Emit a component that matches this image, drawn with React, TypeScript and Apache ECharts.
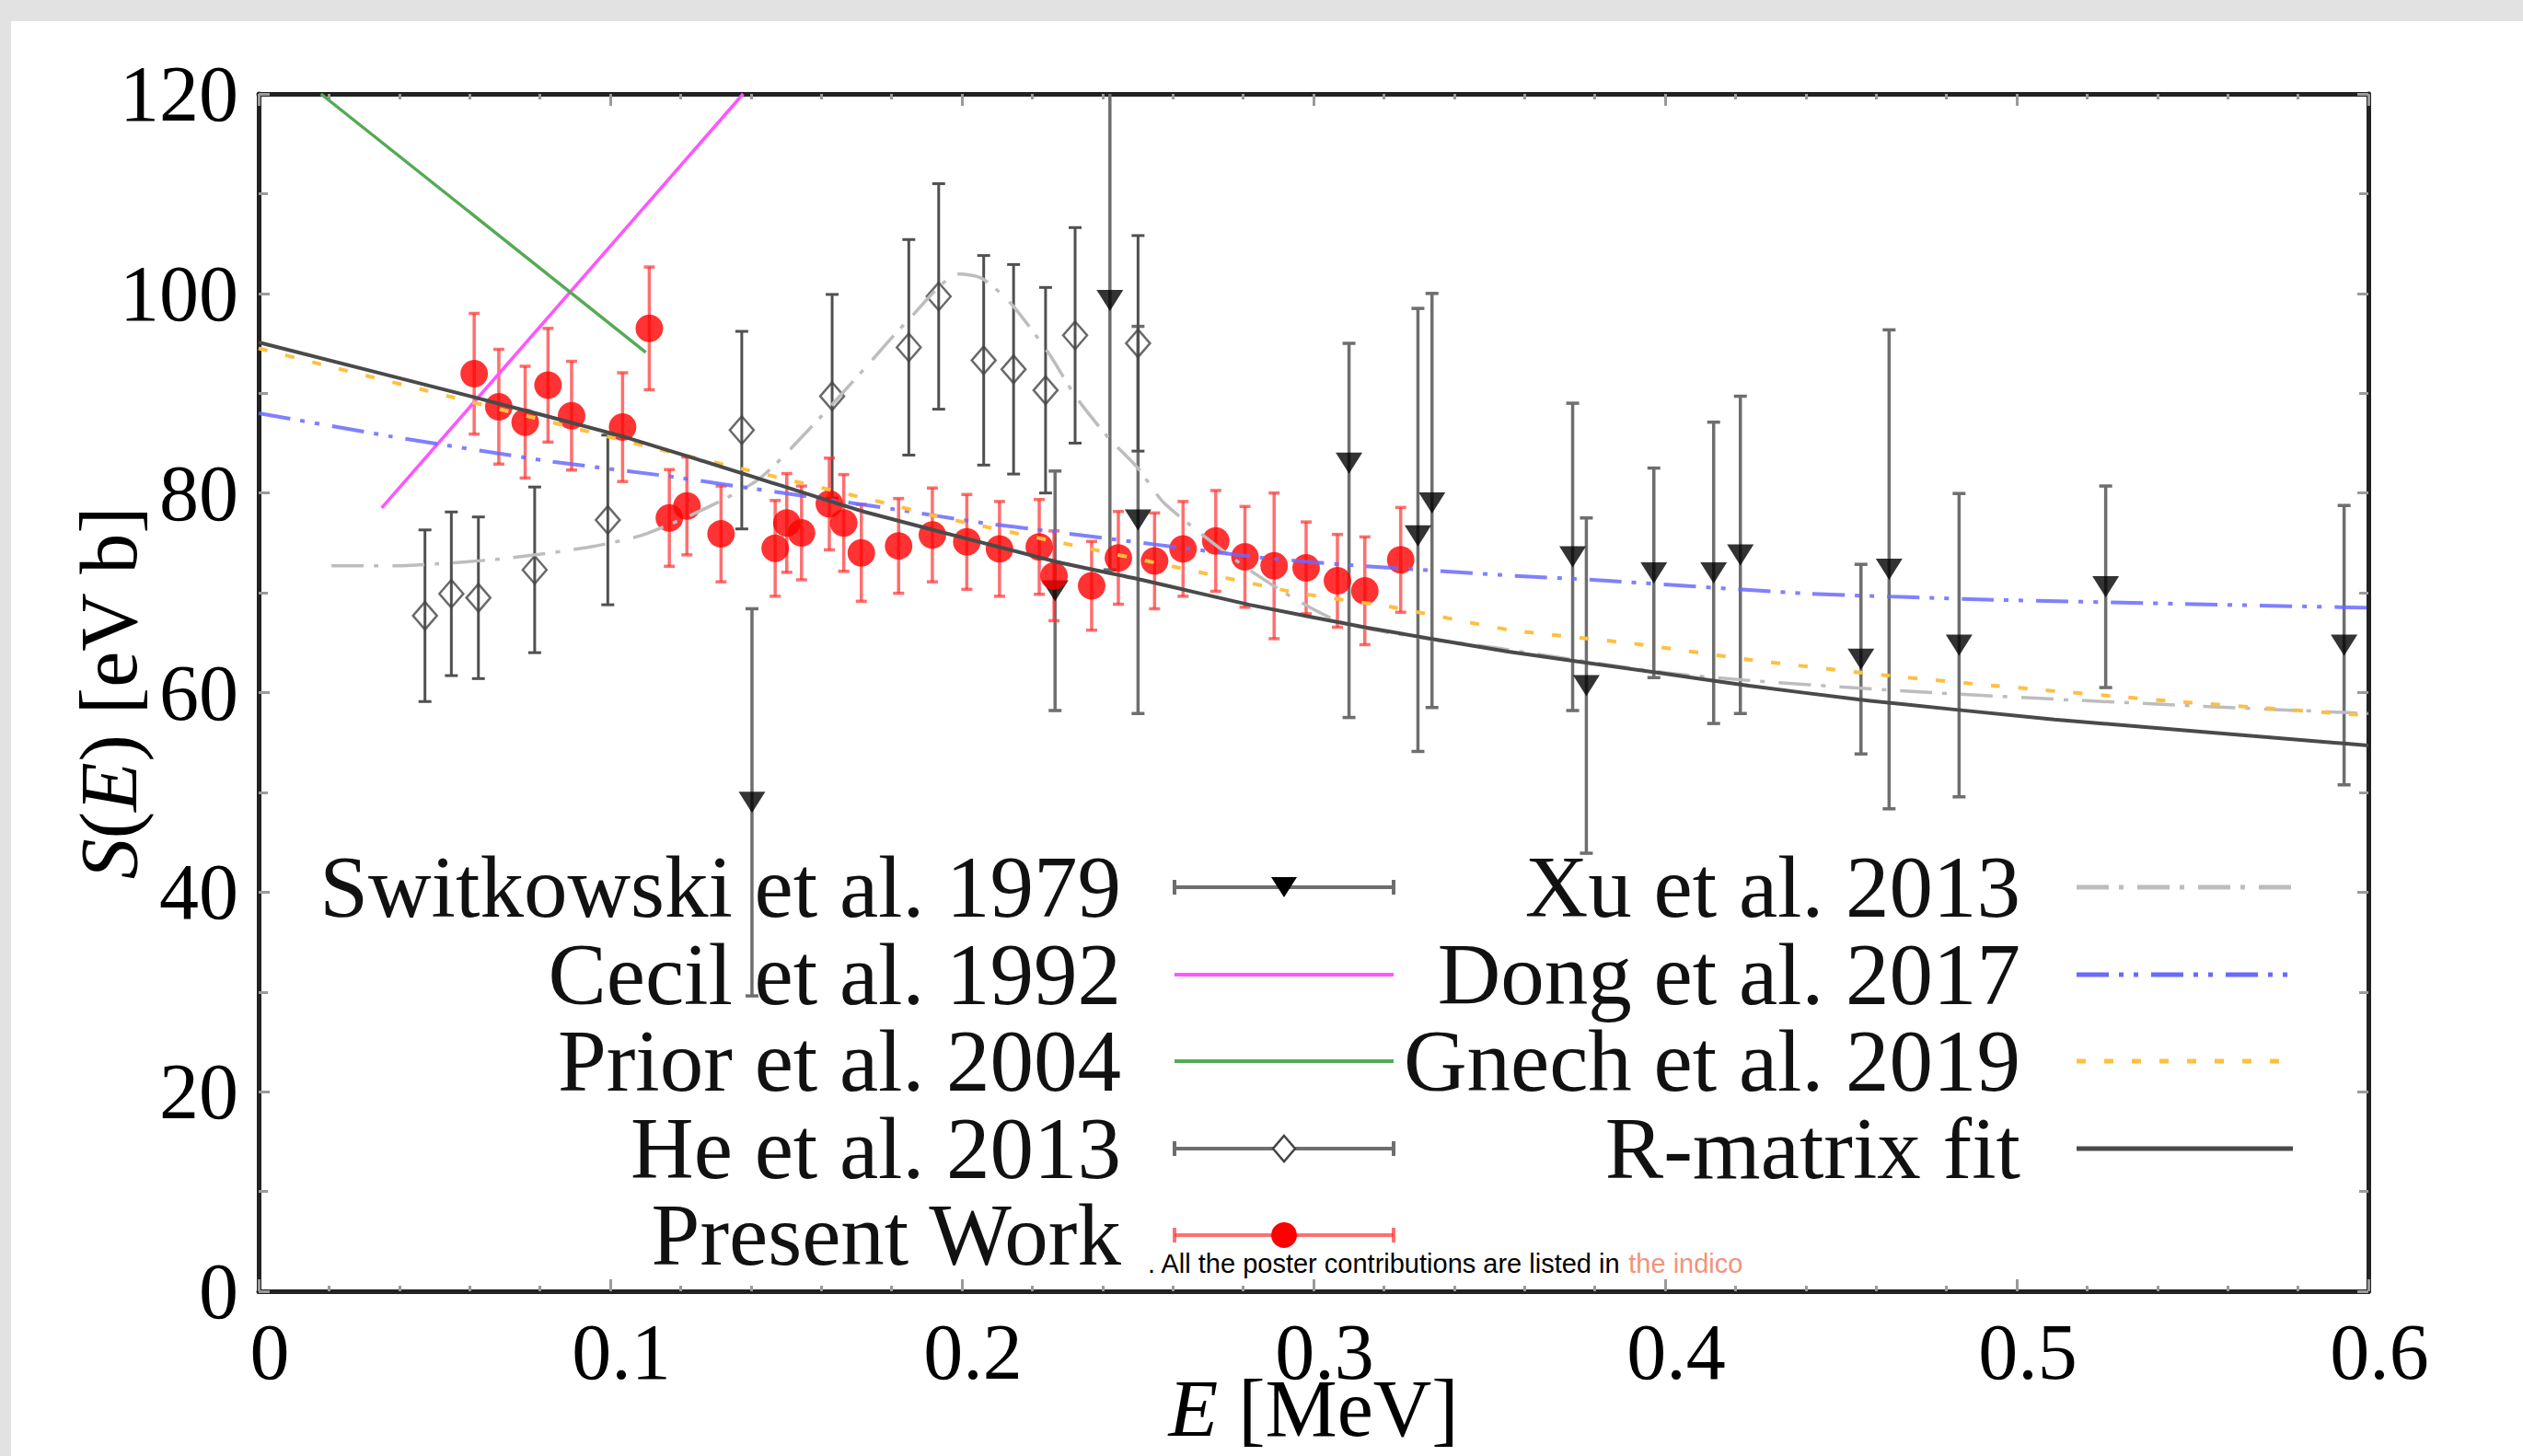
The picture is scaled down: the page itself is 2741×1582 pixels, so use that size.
import React, { useEffect, useRef } from 'react';
import * as echarts from 'echarts';

const W = 2741;
const H = 1582;

// ---------- data ----------
// Present Work (red circles)
const pwE = [0.0613, 0.0683, 0.0758, 0.0823, 0.089, 0.1035, 0.1111, 0.1168, 0.1218, 0.1315, 0.1469, 0.1502, 0.1544, 0.1623, 0.1664, 0.1714, 0.182, 0.1916, 0.2014, 0.2107, 0.222, 0.2262, 0.2369, 0.2445, 0.2548, 0.2629, 0.2722, 0.2805, 0.2888, 0.2979, 0.3068, 0.3146, 0.3248];
const pwS = [91.95, 88.65, 87.1, 90.8, 87.75, 86.6, 96.5, 77.5, 78.7, 75.9, 74.45, 77.0, 76.0, 78.9, 77.0, 74.0, 74.7, 75.8, 75.1, 74.4, 74.6, 71.7, 70.7, 73.5, 73.2, 74.4, 75.2, 73.6, 72.7, 72.5, 71.2, 70.2, 73.3];
const pwErr = [6.05, 5.75, 5.6, 5.7, 5.45, 5.45, 6.15, 4.85, 4.9, 4.8, 4.8, 4.95, 4.7, 4.6, 4.85, 4.85, 4.75, 4.7, 4.75, 4.75, 4.75, 4.5, 4.45, 4.65, 4.8, 4.75, 5.05, 5.05, 7.3, 4.6, 4.65, 5.4, 5.25];

// Switkowski et al. 1979 (black down triangles)
const swE = [0.1403, 0.2265, 0.2421, 0.2501, 0.3101, 0.3297, 0.3337, 0.3737, 0.3776, 0.3968, 0.4138, 0.4214, 0.4557, 0.4637, 0.4836, 0.5253, 0.5931];
const swS = [49.0, 70.2, 99.3, 77.3, 83.0, 75.7, 79.0, 73.6, 60.7, 72.0, 72.0, 73.8, 63.35, 72.35, 64.75, 70.6, 64.75];
const swErrLo = [19.4, 12.0, 27.0, 19.4, 25.5, 21.6, 20.5, 15.4, 16.8, 10.5, 15.1, 15.9, 9.5, 24.0, 15.2, 10.1, 14.0];
const swErrHi = [19.4, 12.0, 27.0, 19.4, 12.0, 22.8, 21.0, 15.4, 16.8, 10.5, 15.1, 15.9, 9.5, 24.0, 15.2, 10.1, 14.0];

// He et al. 2013 (open diamonds)
const heE = [0.0473, 0.0548, 0.0625, 0.0785, 0.0993, 0.1374, 0.1631, 0.1849, 0.1934, 0.2062, 0.2147, 0.2238, 0.2322, 0.2501];
const heS = [67.7, 69.9, 69.5, 72.3, 77.3, 86.3, 89.7, 94.6, 99.7, 93.3, 92.4, 90.3, 95.8, 95.0];
const heErr = [8.6, 8.2, 8.1, 8.3, 8.5, 9.9, 10.2, 10.8, 11.3, 10.5, 10.5, 10.3, 10.8, 10.8];

// Cecil et al. 1992
const ccE = [0.035, 0.1378];
const ccS = [78.5, 120.0];
// Prior et al. 2004
const prE = [0.0177, 0.1101];
const prS = [120.0, 94.1];
// Xu et al. 2013
const xuE = [0.0207, 0.0387, 0.0552, 0.0717, 0.0943, 0.1093, 0.1273, 0.1423, 0.1574, 0.1724, 0.1844, 0.1994, 0.2057, 0.2138, 0.2245, 0.2325, 0.2418, 0.2498, 0.2578, 0.283, 0.3085, 0.3553, 0.4063, 0.4758, 0.5453, 0.6];
const xuS = [72.7, 72.7, 73.0, 73.5, 74.6, 75.8, 78.5, 81.4, 86.7, 92.5, 97.2, 101.95, 101.5, 99.05, 94.1, 89.6, 85.5, 82.6, 78.9, 72.0, 67.0, 64.3, 61.75, 60.0, 58.75, 57.9];
// Dong et al. 2017
const dgE = [0, 0.0372, 0.0823, 0.1183, 0.1394, 0.1822, 0.2039, 0.2243, 0.2857, 0.3132, 0.3352, 0.3572, 0.3794, 0.4411, 0.4932, 0.5453, 0.6];
const dgS = [88.0, 85.7, 83.2, 81.6, 80.5, 78.3, 77.1, 76.2, 73.5, 72.7, 72.2, 71.7, 71.3, 69.9, 69.3, 68.9, 68.5];
// Gnech et al. 2019
const gnE = [0, 0.0222, 0.0552, 0.1123, 0.1378, 0.1769, 0.1924, 0.2284, 0.2618, 0.2952, 0.3218, 0.3553, 0.3913, 0.4237, 0.4619, 0.4932, 0.5453, 0.6];
const gnS = [94.5, 92.5, 89.6, 84.5, 82.4, 79.1, 77.7, 75.0, 72.5, 70.0, 68.6, 66.3, 64.9, 63.3, 61.75, 60.7, 59.1, 57.7];
// R-matrix fit
const rmE = [0, 0.0613, 0.1033, 0.1409, 0.1724, 0.227, 0.2511, 0.2818, 0.3152, 0.3553, 0.3977, 0.4237, 0.455, 0.5106, 0.6];
const rmS = [95.1, 89.6, 85.7, 81.6, 78.1, 73.1, 71.3, 68.8, 66.5, 64.1, 62.0, 60.7, 59.3, 57.3, 54.7];

// axes
const xMin = 0, xMax = 0.6, xStep = 0.1;
const yMin = 0, yMax = 120, yStep = 20;

const legendLeft = ['Switkowski et al. 1979', 'Cecil et al. 1992', 'Prior et al. 2004', 'He et al. 2013', 'Present Work'];
const legendRight = ['Xu et al. 2013', 'Dong et al. 2017', 'Gnech et al. 2019', 'R-matrix fit'];
const noteText = '. All the poster contributions are listed in ';
const noteLink = 'the indico';

// ---------- styles ----------
const SERIF = '"Liberation Serif", "Times New Roman", serif';
const SANS = '"Liberation Sans", Arial, sans-serif';
const TICK = '#9a9a9a';
const C = {
  sw: '#6e6e6e',
  he: '#505050',
  pwBar: 'rgba(255,50,50,0.7)',
  pw: '#ff0000',
  cecil: '#ff55ff',
  prior: '#55aa55',
  xu: '#bdbdbd',
  dong: '#6a6aff',
  gnech: '#ffbf40',
  rm: '#4a4a4a',
};
const DASH = {
  xu: [35, 11, 5, 15],
  dong: [35, 11, 5, 11, 5, 14],
  gnech: [10, 20],
};

const pairs = (xs: number[], ys: number[]) => xs.map((x, i) => [x, ys[i]]);

function errorBars(name: string, xs: number[], ys: number[], lo: number[], hi: number[], color: string, width: number, cap: number) {
  return {
    type: 'custom',
    name,
    clip: true,
    silent: true,
    data: xs.map((x, i) => [x, ys[i] - lo[i], ys[i] + hi[i]]),
    encode: { x: 0, y: [1, 2] },
    renderItem: (_p: any, api: any) => {
      const a = api.coord([api.value(0), api.value(1)]);
      const b = api.coord([api.value(0), api.value(2)]);
      const style = { stroke: color, lineWidth: width };
      return {
        type: 'group',
        children: [
          { type: 'line', shape: { x1: a[0], y1: a[1], x2: b[0], y2: b[1] }, style },
          { type: 'line', shape: { x1: a[0] - cap, y1: a[1], x2: a[0] + cap, y2: a[1] }, style },
          { type: 'line', shape: { x1: b[0] - cap, y1: b[1], x2: b[0] + cap, y2: b[1] }, style },
        ],
      };
    },
  };
}

function curve(name: string, xs: number[], ys: number[], color: string, width: number, type: any, smooth: number | boolean, opacity = 1) {
  return {
    type: 'line',
    name,
    data: pairs(xs, ys),
    showSymbol: false,
    symbol: 'none',
    smooth,
    clip: true,
    silent: true,
    lineStyle: { color, width, type, opacity, cap: 'butt' },
  };
}

// ---------- legend (gnuplot-style key drawn as graphics) ----------
const rowY = [964, 1059, 1153, 1248, 1342];
const LT = 1218, L1 = 1276, L2 = 1514;
const RT = 2195, R1 = 2256, R2 = 2491;

function keyText(t: string, x: number, y: number) {
  return {
    type: 'text', x, y, silent: true, z: 50,
    style: { text: t, align: 'right', verticalAlign: 'middle', fontFamily: SERIF, fontSize: 95, lineHeight: 78, fill: '#111' },
  };
}
function seg(x1: number, y1: number, x2: number, y2: number, stroke: string, lineWidth: number, lineDash?: number[]) {
  return { type: 'line', silent: true, z: 50, shape: { x1, y1, x2, y2 }, style: { stroke, lineWidth, lineDash } };
}
function barKey(y: number, color: string, width: number) {
  return [
    seg(L1, y, L2, y, color, width),
    seg(L1, y - 8, L1, y + 8, color, width),
    seg(L2, y - 8, L2, y + 8, color, width),
  ];
}

function buildGraphic() {
  const cx = (L1 + L2) / 2;
  const els: any[] = [];
  legendLeft.forEach((t, i) => els.push(keyText(t, LT, rowY[i])));
  legendRight.forEach((t, i) => els.push(keyText(t, RT, rowY[i])));
  // Switkowski
  els.push(...barKey(rowY[0], C.sw, 4));
  els.push({ type: 'polygon', silent: true, z: 51, shape: { points: [[cx - 14, rowY[0] - 11], [cx + 14, rowY[0] - 11], [cx, rowY[0] + 11]] }, style: { fill: '#000' } });
  // Cecil, Prior
  els.push(seg(L1, rowY[1], L2, rowY[1], C.cecil, 4));
  els.push(seg(L1, rowY[2], L2, rowY[2], C.prior, 4));
  // He
  els.push(...barKey(rowY[3], C.sw, 4));
  els.push({ type: 'polygon', silent: true, z: 51, shape: { points: [[cx, rowY[3] - 14], [cx + 12, rowY[3]], [cx, rowY[3] + 14], [cx - 12, rowY[3]]] }, style: { fill: '#fff', stroke: '#444', lineWidth: 2.5 } });
  // Present Work
  els.push(...barKey(rowY[4], C.pwBar, 4));
  els.push({ type: 'circle', silent: true, z: 51, shape: { cx, cy: rowY[4], r: 14 }, style: { fill: C.pw } });
  // right column
  els.push(seg(R1, rowY[0], R2, rowY[0], C.xu, 5, DASH.xu));
  els.push(seg(R1, rowY[1], R2, rowY[1], C.dong, 5, DASH.dong));
  els.push(seg(R1, rowY[2], R2, rowY[2], C.gnech, 5, DASH.gnech));
  els.push(seg(R1, rowY[3], R2, rowY[3], C.rm, 5));
  // overlay note
  els.push({
    type: 'text', x: 1247, y: 1373, silent: true, z: 60,
    style: {
      text: noteText + '{a|' + noteLink + '}',
      align: 'left', verticalAlign: 'middle', fontFamily: SANS, fontSize: 29, lineHeight: 30, fill: '#000',
      rich: { a: { fill: '#f2937a', fontFamily: SANS, fontSize: 29, lineHeight: 30 } },
    },
  });
  return els;
}

const frameLine = { show: true, onZero: false, lineStyle: { color: '#222', width: 5 } };

function xAx(pos: 'bottom' | 'top', labels: boolean) {
  return {
    type: 'value', position: pos, min: xMin, max: xMax, interval: xStep,
    axisLine: frameLine,
    axisTick: { show: true, inside: true, length: 13, lineStyle: { color: TICK, width: 3 } },
    minorTick: { show: true, splitNumber: 5, length: 6, lineStyle: { color: TICK, width: 3 } },
    splitLine: { show: false },
    minorSplitLine: { show: false },
    axisLabel: labels
      ? { show: true, margin: 36, lineHeight: 60, padding: [0, 0, 0, 24], fontFamily: SERIF, fontSize: 86, color: '#000' }
      : { show: false },
    ...(labels
      ? {
          name: '{i|E} [MeV]', nameLocation: 'middle', nameGap: 97, nameMoveOverlap: false,
          nameTextStyle: {
            fontFamily: SERIF, fontSize: 88, lineHeight: 60, color: '#000',
            rich: { i: { fontStyle: 'italic', fontFamily: SERIF, fontSize: 88, lineHeight: 60, color: '#000' } },
          },
        }
      : {}),
  };
}
function yAx(pos: 'left' | 'right', labels: boolean) {
  return {
    type: 'value', position: pos, min: yMin, max: yMax, interval: yStep,
    axisLine: frameLine,
    axisTick: { show: true, inside: true, length: 12, lineStyle: { color: TICK, width: 3 } },
    minorTick: { show: true, splitNumber: 2, length: 10, lineStyle: { color: TICK, width: 3 } },
    splitLine: { show: false },
    minorSplitLine: { show: false },
    axisLabel: labels ? { show: true, margin: 22, fontFamily: SERIF, fontSize: 86, color: '#000' } : { show: false },
    ...(labels
      ? {
          name: '{i|S}({i|E}) [eV b]', nameLocation: 'middle', nameGap: 119, nameRotate: 90, nameMoveOverlap: false,
          nameTextStyle: { fontFamily: SERIF, fontSize: 88, color: '#000', rich: { i: { fontStyle: 'italic', fontFamily: SERIF, fontSize: 88, color: '#000' } } },
        }
      : {}),
  };
}

function buildOption() {
  return {
    animation: false,
    backgroundColor: 'transparent',
    grid: { left: 281, top: 102, width: 2292, height: 1301, containLabel: false, outerBoundsMode: 'none' },
    xAxis: [xAx('bottom', true), xAx('top', false)],
    yAxis: [yAx('left', true), yAx('right', false)],
    series: [
      errorBars('Switkowski bars', swE, swS, swErrLo, swErrHi, C.sw, 3.5, 7),
      {
        type: 'scatter', name: legendLeft[0], data: pairs(swE, swS), silent: true,
        symbol: 'triangle', symbolRotate: 180, symbolSize: [29, 23], itemStyle: { color: '#000' },
      },
      curve(legendLeft[1], ccE, ccS, C.cecil, 3.5, 'solid', false),
      curve(legendLeft[2], prE, prS, C.prior, 3.5, 'solid', false),
      errorBars('He bars', heE, heS, heErr, heErr, C.he, 3, 7),
      {
        type: 'scatter', name: legendLeft[3], data: pairs(heE, heS), silent: true,
        symbol: 'diamond', symbolSize: [26, 30],
        itemStyle: { color: 'rgba(255,255,255,0)', borderColor: '#444', borderWidth: 2.5 },
      },
      errorBars('Present bars', pwE, pwS, pwErr, pwErr, C.pwBar, 3.5, 6),
      {
        type: 'scatter', name: legendLeft[4], data: pairs(pwE, pwS), silent: true,
        symbol: 'circle', symbolSize: 30, itemStyle: { color: C.pw },
      },
      curve(legendRight[0], xuE, xuS, C.xu, 3.5, DASH.xu, 0.25),
      curve(legendRight[1], dgE, dgS, C.dong, 4, DASH.dong, 0.12, 0.85),
      curve(legendRight[2], gnE, gnS, C.gnech, 4, DASH.gnech, 0.12),
      curve(legendRight[3], rmE, rmS, C.rm, 4, 'solid', 0.12),
    ],
    graphic: buildGraphic(),
  };
}

export default function App() {
  const ref = useRef<HTMLDivElement>(null);
  useEffect(() => {
    if (!ref.current) return;
    const chart = echarts.init(ref.current, null, { renderer: 'svg', width: W, height: H });
    chart.setOption(buildOption() as any);
    return () => chart.dispose();
  }, []);
  return (
    <div style={{ position: 'fixed', left: 0, top: 0, width: W, height: H, background: '#e2e2e2', overflow: 'hidden' }}>
      <div style={{ position: 'absolute', left: 12, top: 23, right: 0, bottom: 0, background: '#ffffff' }} />
      <div ref={ref} style={{ position: 'absolute', left: 0, top: 0, width: W, height: H }} />
    </div>
  );
}
